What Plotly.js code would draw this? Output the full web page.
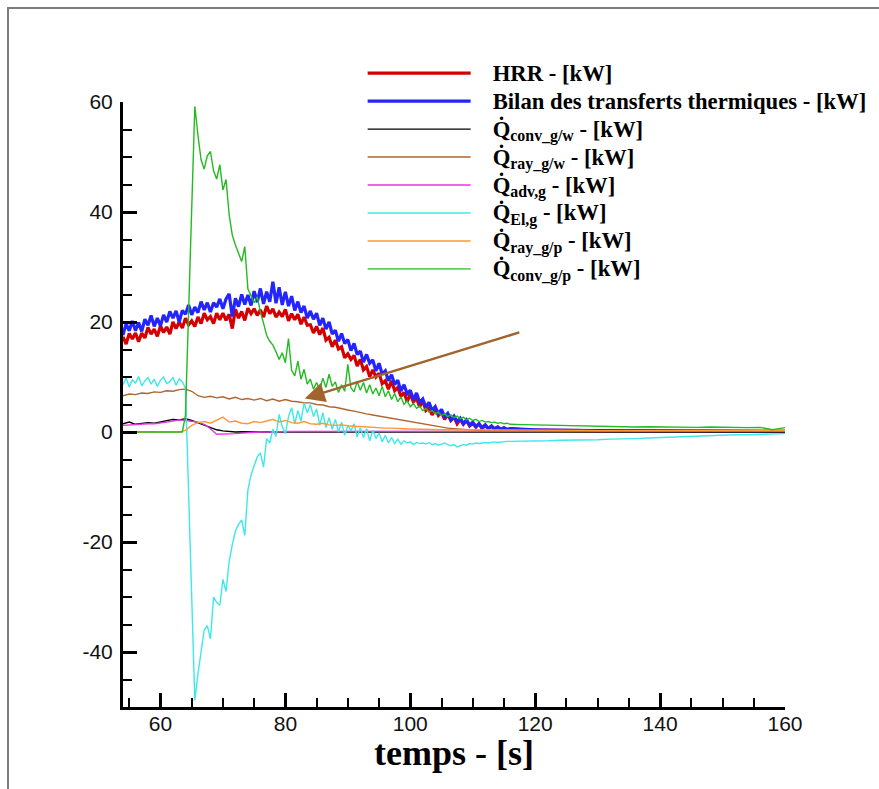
<!DOCTYPE html>
<html>
<head>
<meta charset="utf-8">
<script src="https://cdn.plot.ly/plotly-3.0.1.min.js"></script>
<style>
html,body{margin:0;padding:0;background:#fff;overflow:hidden;}
#wrap{position:relative;width:879px;height:789px;}
#chart{position:absolute;left:0;top:0;width:879px;height:789px;}
#frame{position:absolute;left:7px;top:7px;width:900px;height:900px;border-left:2px solid #7d7d7d;border-top:2px solid #7d7d7d;pointer-events:none;}
</style>
</head>
<body>
<div id="wrap"><div id="chart"></div><div id="frame"></div></div>
<script>
// time axes (s)
const temps_fin = [54,54.5,55,55.5,56,56.5,57,57.5,58,58.5,59,59.5,60,60.5,61,61.5,62,62.5,63,63.5,64,64.5,65,65.5,66,66.5,67,67.5,68,68.5,69,69.5,70,70.5,71,71.5,72,72.5,73,73.5,74,74.5,75,75.5,76,76.5,77,77.5,78,78.5,79,79.5,80,80.5,81,81.5,82,82.5,83,83.5,84,84.5,85,85.5,86,86.5,87,87.5,88,88.5,89,89.5,90,90.5,91,91.5,92,92.5,93,93.5,94,94.5,95,95.5,96,96.5,97,97.5,98,98.5,99,99.5,100,100.5,101,101.5,102,102.5,103,103.5,104,104.5,105,105.5,106,106.5,107,107.5,108,108.5,109,109.5,110,110.5,111,111.5,112,112.5,113,113.5,114,114.5,115,115.5,116,118,120,122,124,126,128,130,132,134,136,138,140,142,144,146,148,150,152,154,156,158,160];
const temps_lisse = [54,55,56,57,58,59,60,61,62,63,64,65,66,67,68,69,70,71,72,73,74,75,76,77,78,79,80,81,82,83,84,85,86,87,88,89,90,91,92,93,94,95,96,97,98,99,100,101,102,103,104,105,106,107,108,109,110,111,112,113,114,115,116,118,120,122,124,126,128,130,132,134,136,138,140,142,144,146,148,150,152,154,156,158,160];

// y tick labels (hyphen minus as in the original)
const y_ticks = [-40, -20, 0, 20, 40, 60];
const y_tick_labels = ['-40', '-20', '0', '20', '40', '60'];

// HRR - [kW]
const hrr = [17.3,16.0,17.9,16.9,18.0,16.4,18.0,17.1,19.0,17.8,
18.7,17.4,19.3,18.1,19.1,17.8,20.0,18.8,20.0,18.9,
20.7,19.5,20.2,19.2,20.9,19.7,21.6,20.4,21.0,19.7,
21.6,20.4,21.6,20.3,21.4,18.8,22.3,20.7,21.9,20.3,
22.5,21.5,22.4,21.2,22.2,20.9,22.9,21.5,22.4,20.9,
21.8,21.0,22.3,20.2,21.5,20.4,21.4,19.6,20.9,19.4,
19.5,18.0,19.2,17.7,18.9,16.7,17.2,15.5,16.7,15.1,
15.5,13.5,14.2,13.2,13.9,12.0,13.2,11.3,11.9,10.1,
11.3,10.0,10.7,8.8,9.3,7.8,9.3,7.5,8.1,6.5,
7.2,5.5,6.9,5.5,6.1,4.6,5.7,3.9,4.4,3.1,
4.3,3.0,3.6,2.3,3.2,2.1,2.7,1.5,2.3,1.4,
2.1,1.1,1.6,0.9,1.5,0.6,1.2,0.6,1.0,0.55,
0.9,0.45,0.75,0.4,0.6,
0.4,0.35,0.3,0.3,0.25,0.25,0.2,0.2,0.2,0.2,0.2,0.15,0.15,0.15,0.15,0.15,0.15,0.1,0.1,0.1,0.1,0.1];

// Bilan des transferts thermiques - [kW]
const bilan = [17.6,19.7,18.4,20.2,18.4,19.9,18.3,20.5,19.4,21.2,
19.2,20.7,19.3,21.3,20.0,21.9,20.7,22.0,20.0,22.1,
21.4,23.1,21.3,22.7,21.7,23.7,22.2,23.5,21.8,23.5,
22.7,24.2,22.4,24.2,25.1,21.0,24.3,22.8,25.0,23.2,
24.9,23.0,25.6,23.6,26.1,23.3,25.5,23.7,27.3,23.4,
26.3,23.1,25.5,22.9,24.7,22.1,23.7,21.7,22.9,20.7,
22.0,20.5,21.6,19.4,20.7,18.7,20.0,17.8,18.5,16.5,
17.9,16.1,16.8,14.8,16.1,14.1,14.7,12.7,14.1,12.5,
13.1,11.1,12.5,10.5,11.1,9.3,10.4,8.65,9.4,7.45,
8.6,6.95,7.6,5.85,7.1,5.4,6.0,4.5,5.4,3.9,
4.6,3.25,4.1,2.75,3.4,2.2,2.9,1.85,2.5,1.55,
2.2,1.25,1.8,1.0,1.5,0.8,1.3,0.65,1.1,0.55,
0.9,0.5,0.75,0.45,0.6,
0.45,0.4,0.35,0.3,0.3,0.25,0.25,0.2,0.2,0.2,0.2,0.2,0.15,0.15,0.15,0.15,0.15,0.15,0.1,0.1,0.1,0.1];

// Q conv g/p
const q_conv_gp = [0,0,0,0,0,0,0,0,0,0,
0,0,0,0,0,0,0,0,0,0,
3,22,42,59.2,54.0,49.5,47.8,50.2,51.0,47.5,
46.0,48.6,44.0,45.9,39.5,35.8,34.0,32.3,31.0,33.7,
26.0,24.8,23.5,24.6,21.8,19.8,17.6,16.5,15.8,14.6,
13.2,14.4,12.6,17.0,11.2,10.2,12.9,9.6,11.4,8.7,
9.6,7.8,9.0,7.7,9.8,8.1,10.5,8.3,9.1,7.2,
8.6,7.4,12.3,8.0,7.3,9.2,7.6,9.0,7.1,8.6,
6.9,8.0,6.6,8.3,6.4,7.5,5.9,7.0,5.5,6.4,
5.0,5.7,4.6,5.2,4.3,4.7,3.9,4.3,3.6,3.9,
3.3,3.6,3.0,3.3,2.8,3.1,2.6,2.9,2.4,2.7,
2.2,2.5,2.1,2.3,1.9,2.1,1.8,1.9,1.7,1.8,
1.6,1.7,1.5,1.6,1.4,
1.35,1.3,1.2,1.15,1.1,1.1,1.0,1.0,0.95,0.9,0.95,0.9,0.85,0.9,0.85,0.9,0.85,0.9,0.8,0.85,0.4,0.8];

// Q El,g
const q_el_g = [8.6,9.8,8.2,9.5,8.9,10.1,8.4,9.3,9.9,8.7,
9.6,8.3,9.4,10.0,8.8,9.2,9.9,8.5,9.7,9.1,
8.0,-11,-30,-48.8,-44.0,-39.5,-36.0,-35.2,-37.6,-30.0,
-31.0,-31.5,-26.8,-29.0,-23.5,-20.5,-18.0,-16.8,-16.0,-18.8,
-10.5,-7.8,-6.0,-4.5,-3.8,-6.4,-1.2,-2.0,0.5,-0.8,
3.2,1.0,-0.3,2.8,4.4,1.5,3.9,2.0,5.3,3.5,
5.0,2.8,4.2,1.2,3.5,0.8,2.6,0.5,2.3,0.0,
1.8,-0.6,1.2,0.2,1.5,-0.9,0.8,-1.0,0.6,-1.6,
0.3,-1.2,-0.2,-1.8,-0.6,-2.0,-1.0,-2.1,-1.3,-2.2,
-1.6,-2.0,-1.8,-2.3,-1.9,-2.1,-2.0,-2.2,-1.9,-2.3,
-2.1,-2.4,-2.2,-2.0,-2.3,-2.5,-2.3,-2.7,-2.5,-2.3,
-2.4,-2.1,-2.2,-2.0,-2.1,-2.0,-1.9,-2.0,-1.9,-1.8,
-1.9,-1.8,-1.8,-1.7,-1.7,
-1.7,-1.6,-1.6,-1.5,-1.5,-1.4,-1.4,-1.3,-1.3,-1.2,-1.1,-1.0,-0.9,-0.9,-0.8,-0.7,-0.6,-0.5,-0.5,-0.4,-0.3,-0.3];

// Q ray g/w
const q_ray_gw = [6.6,6.9,6.8,7.1,7.0,7.3,7.2,7.5,7.4,7.7,
7.8,7.4,6.6,6.3,6.5,6.2,6.4,6.0,6.3,5.9,
6.1,5.8,6.1,5.7,6.0,5.6,5.9,5.6,5.5,5.3,
5.3,5.0,4.9,4.6,4.5,4.2,4.0,3.8,3.5,3.3,
3.1,2.9,2.6,2.4,2.2,2.0,1.8,1.6,1.4,1.2,
1.0,0.85,0.7,0.6,0.5,0.4,0.35,0.3,0.25,0.2,
0.2,0.15,0.15,
0.12,0.1,0.1,0.1,0.1,0.1,0.1,0.1,0.1,0.1,0.1,0.1,0.1,0.1,0.1,0.1,0.1,0.1,0.1,0.1,0.1,0.1];

// Q ray g/p
const q_ray_gp = [0,0,0,0,0,0,0,0,0,0,
0.3,1.2,1.7,1.9,1.6,2.2,2.7,1.8,2.0,1.6,
1.5,1.9,1.7,2.0,2.3,1.8,2.1,1.7,1.6,1.9,
1.5,1.4,1.6,1.3,1.2,1.3,1.1,1.0,1.0,0.9,
0.8,0.8,0.7,0.7,0.6,0.6,0.55,0.5,0.5,0.45,
0.45,0.4,0.4,0.4,0.35,0.35,0.35,0.3,0.3,0.3,
0.3,0.3,0.3,
0.3,0.3,0.3,0.3,0.3,0.3,0.25,0.25,0.25,0.25,0.25,0.25,0.25,0.25,0.25,0.25,0.25,0.25,0.25,0.25,0.25,0.25];

// Q conv g/w
const q_conv_gw = [1.5,1.8,1.4,1.6,1.7,1.6,1.8,2.0,2.3,2.2,
2.4,2.1,1.7,1.3,0.8,0.4,0.2,0.1,0.0,0.05,
0.0,0.05,0.0,0.05,0.0,0.0,0.05,0.0,0.0,0.0,
0,0,0,0,0,0,0,0,0,0,
0,0,0,0,0,0,0,0,0,0,
0,0,0,0,0,0,0,0,0,0,
0,0,0,
0,0,0,0,0,0,0,0,0,0,0,0,0,0,0,0,0,0,0,0,0,0];

// Q adv,g
const q_adv_g = [1.2,1.3,1.3,1.4,1.5,1.5,1.6,1.8,2.0,2.2,
2.1,2.0,1.8,1.4,0.6,-0.4,-0.4,-0.35,-0.3,-0.2,
-0.1,-0.1,0.0,0.0,0.05,0.05,0.1,0.1,0.1,0.1,
0.1,0.15,0.15,0.15,0.15,0.2,0.2,0.2,0.2,0.2,
0.2,0.2,0.2,0.2,0.2,0.2,0.2,0.2,0.2,0.2,
0.2,0.2,0.2,0.2,0.2,0.2,0.2,0.2,0.2,0.2,
0.2,0.2,0.2,
0.2,0.2,0.2,0.2,0.2,0.2,0.2,0.2,0.2,0.2,0.2,0.2,0.2,0.2,0.2,0.2,0.2,0.2,0.2,0.2,0.2,0.2];

const QD = 'Q\u0307';
const SP = '\u00a0\u00a0\u00a0';
function lab(s) { return '<span style="font-size:22.7px">' + SP + '<b>' + s + '</b></span>'; }
const names = {
  hrr: lab('HRR - [kW]'),
  bilan: lab('Bilan des transferts thermiques - [kW]'),
  conv_gw: lab(QD + '<sub>conv_g/w</sub> - [kW]'),
  ray_gw: lab(QD + '<sub>ray_g/w</sub> - [kW]'),
  adv_g: lab(QD + '<sub>adv,g</sub> - [kW]'),
  el_g: lab(QD + '<sub>El,g</sub> - [kW]'),
  ray_gp: lab(QD + '<sub>ray_g/p</sub> - [kW]'),
  conv_gp: lab(QD + '<sub>conv_g/p</sub> - [kW]')
};

function tr(x, y, name, color, width) {
  return {x: x, y: y, name: name, type: 'scatter', mode: 'lines',
          line: {color: color, width: width}, hoverinfo: 'skip'};
}

const data = [
  tr(temps_fin, hrr, names.hrr, '#d40000', 3.2),
  tr(temps_fin, bilan, names.bilan, '#2424ff', 3.2),
  tr(temps_lisse, q_conv_gw, names.conv_gw, '#000000', 1.4),
  tr(temps_lisse, q_ray_gw, names.ray_gw, '#b0652f', 1.4),
  tr(temps_lisse, q_adv_g, names.adv_g, '#e633e6', 1.4),
  tr(temps_fin, q_el_g, names.el_g, '#3ee8e8', 1.4),
  tr(temps_lisse, q_ray_gp, names.ray_gp, '#ff9933', 1.4),
  tr(temps_fin, q_conv_gp, names.conv_gp, '#22bb22', 1.4)
];

const tickFont = {family: 'Liberation Sans, Arial, sans-serif', size: 21, color: '#111'};

const layout = {
  width: 879, height: 789,
  margin: {l: 123, r: 94, t: 102, b: 82, pad: 0, autoexpand: false},
  paper_bgcolor: '#ffffff', plot_bgcolor: '#ffffff',
  showlegend: true,
  legend: {
    x: 0.362, y: 1.079, xanchor: 'left', yanchor: 'top',
    bgcolor: 'rgba(0,0,0,0)', borderwidth: 0,
    itemwidth: 103, tracegroupgap: 0,
    font: {family: 'Liberation Serif, Times New Roman, serif', size: 19.2, color: '#000'}
  },
  xaxis: {
    range: [54, 160], autorange: false,
    showline: true, linecolor: '#000', linewidth: 3,
    showgrid: false, zeroline: false,
    ticks: 'inside', ticklen: 14, tickwidth: 3, tickcolor: '#000',
    tick0: 0, dtick: 20, ticklabelstandoff: -4,
    minor: {ticks: 'inside', ticklen: 9, tickwidth: 2, tickcolor: '#000', dtick: 5, tick0: 0, showgrid: false},
    tickfont: tickFont,
    automargin: false
  },
  yaxis: {
    range: [-50, 60], autorange: false,
    showline: true, linecolor: '#000', linewidth: 3,
    showgrid: false, zeroline: false,
    ticks: 'inside', ticklen: 14, tickwidth: 3, tickcolor: '#000',
    tickmode: 'array', tickvals: y_ticks, ticktext: y_tick_labels, ticklabelstandoff: 3,
    minor: {ticks: 'inside', ticklen: 9, tickwidth: 2, tickcolor: '#000', dtick: 5, tick0: 0, showgrid: false},
    tickfont: tickFont,
    automargin: false
  },
  annotations: [
    {
      x: 83.1, y: 6.1, xref: 'x', yref: 'y',
      ax: 117.7, ay: 18.2, axref: 'x', ayref: 'y',
      text: '', showarrow: true,
      arrowhead: 2, arrowsize: 1.6, arrowwidth: 2.5, arrowcolor: '#a0642d', standoff: 0
    },
    {
      x: 0.5, y: -0.0766, xref: 'paper', yref: 'paper', xanchor: 'center', yanchor: 'middle',
      showarrow: false, text: '<b>temps - [s]</b>',
      font: {family: 'Liberation Serif, Times New Roman, serif', size: 36, color: '#000'}
    }
  ]
};

Plotly.newPlot('chart', data, layout, {staticPlot: true, displayModeBar: false});
</script>
</body>
</html>
